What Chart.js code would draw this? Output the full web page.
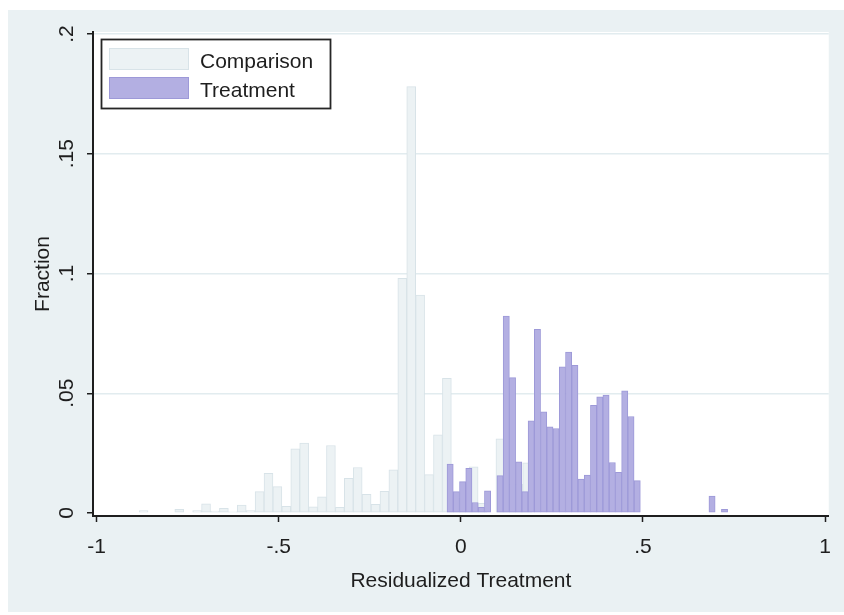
<!DOCTYPE html>
<html>
<head>
<meta charset="utf-8">
<title>Residualized Treatment — Comparison vs Treatment</title>
<script src="https://cdn.jsdelivr.net/npm/chart.js@4.4.1/dist/chart.umd.min.js"></script>
<style>
  html, body { margin: 0; padding: 0; background: #ffffff; }
  #wrap { width: 844px; height: 615px; }
</style>
</head>
<body>
<div id="wrap"><canvas id="hist" width="844" height="615"></canvas></div>
<script>
'use strict';

// ── Data (fractions) ──────────────────────────────────────────────────────
const compBinStart  = -0.8833;
const compBinWidth  = 0.02449;
const compFractions = [
  0.001, 0, 0, 0, 0.0015, 0, 0.001, 0.0038, 0.0008, 0.002,
  0.0005, 0.0033, 0.001, 0.0089, 0.0166, 0.011, 0.0028, 0.0268, 0.0292, 0.0026,
  0.0067, 0.0282, 0.0024, 0.0145, 0.019, 0.0078, 0.0036, 0.009, 0.018, 0.098,
  0.178, 0.091, 0.016, 0.0326, 0.0562, 0.006, 0.010, 0.0193, 0.004, 0,
  0.031, 0.012, 0.012, 0.021,
];

const treatBinStart  = -0.038;
const treatBinWidth  = 0.01712;
const treatFractions = [
  0.0204, 0.0089, 0.0131, 0.0186, 0.0044, 0.0024, 0.0093, 0, 0.0156, 0.0822,
  0.0565, 0.0214, 0.0089, 0.0385, 0.0767, 0.0422, 0.036, 0.0353, 0.061, 0.0672,
  0.0617, 0.0142, 0.0158, 0.045, 0.0485, 0.0492, 0.0211, 0.017, 0.051, 0.0403,
  0.0135, 0, 0, 0, 0, 0, 0, 0, 0, 0,
  0, 0, 0.0071, 0, 0.0015,
];

const seriesLabels = ['Comparison', 'Treatment'];
const xTickValues  = [-1, -0.5, 0, 0.5, 1];
const xTickLabels  = ['-1', '-.5', '0', '.5', '1'];
const yTickValues  = [0, 0.05, 0.1, 0.15, 0.2];
const yTickLabels  = ['0', '.05', '.1', '.15', '.2'];

// ── Style ─────────────────────────────────────────────────────────────────
const FONT       = '"Liberation Sans", Arial, sans-serif';
const FONT_SIZE  = 21;
const INK        = '#1e1e1e';
const PANEL_BG   = '#eaf1f3';
const GRID       = '#e2ecef';
const COMP_FILL  = '#ecf2f4';
const COMP_LINE  = '#d8e3e8';
const TREAT_FILL = '#b3afe2';
const TREAT_LINE = '#9d99d8';

/** Turn a list of bin fractions into {x: bin centre, y} points (empty bins → null). */
function toBins(start, width, fractions) {
  return fractions.map(function (f, i) {
    return { x: start + (i + 0.5) * width, y: f === 0 ? null : f };
  });
}

// ── Plugins ───────────────────────────────────────────────────────────────

// Stata-like panel: light outer region, white plot region
const panelPlugin = {
  id: 'panel',
  beforeDraw(chart) {
    const { ctx, chartArea: a } = chart;
    ctx.save();
    ctx.fillStyle = '#ffffff';
    ctx.fillRect(0, 0, chart.width, chart.height);
    ctx.fillStyle = PANEL_BG;
    ctx.fillRect(8, 10, chart.width - 8, 602);
    ctx.fillStyle = '#ffffff';
    ctx.fillRect(a.left, a.top, a.right - a.left, a.bottom - a.top);
    ctx.restore();
  },
};

// Vertical y tick labels (read bottom to top) + in-plot legend box
const labelsPlugin = {
  id: 'labels',
  afterDraw(chart) {
    const { ctx } = chart;
    const yScale = chart.scales.y;
    ctx.save();
    ctx.fillStyle = INK;
    ctx.font = FONT_SIZE + 'px ' + FONT;

    yTickValues.forEach(function (v, i) {
      const py = yScale.getPixelForValue(v);
      ctx.save();
      ctx.translate(73, py);
      ctx.rotate(-Math.PI / 2);
      ctx.textAlign = 'center';
      ctx.textBaseline = 'alphabetic';
      ctx.fillText(yTickLabels[i], 0, 0);
      ctx.restore();
    });

    // legend
    ctx.lineWidth = 1.8;
    ctx.strokeStyle = '#262626';
    ctx.fillStyle = '#ffffff';
    ctx.fillRect(101, 39, 229, 69);
    ctx.strokeRect(101.5, 39.5, 229, 69);

    const rows = [48, 77];
    chart.data.datasets.forEach(function (ds, i) {
      const top = rows[i];
      ctx.fillStyle = ds.backgroundColor;
      ctx.fillRect(109, top, 80, 22);
      ctx.lineWidth = 1;
      ctx.strokeStyle = ds.borderColor;
      ctx.strokeRect(109.5, top + 0.5, 79, 21);
      ctx.fillStyle = INK;
      ctx.textAlign = 'left';
      ctx.textBaseline = 'alphabetic';
      ctx.fillText(ds.label, 200, top + 20);
    });
    ctx.restore();
  },
};

// ── Chart ─────────────────────────────────────────────────────────────────
const X_MIN = -1.01;
const X_MAX = 1.01;

new Chart(document.getElementById('hist'), {
  type: 'bar',
  data: {
    datasets: [
      {
        label: seriesLabels[0],
        data: toBins(compBinStart, compBinWidth, compFractions),
        xAxisID: 'x',
        backgroundColor: COMP_FILL,
        borderColor: COMP_LINE,
        borderWidth: 1,
        borderSkipped: false,
        grouped: false,
        barPercentage: 1,
        categoryPercentage: 1,
        order: 2,
      },
      {
        label: seriesLabels[1],
        data: toBins(treatBinStart, treatBinWidth, treatFractions),
        xAxisID: 'x2',
        backgroundColor: TREAT_FILL,
        borderColor: TREAT_LINE,
        borderWidth: 1,
        borderSkipped: false,
        grouped: false,
        barPercentage: 1,
        categoryPercentage: 1,
        order: 1,
      },
    ],
  },
  options: {
    responsive: false,
    animation: false,
    devicePixelRatio: 1,
    layout: { padding: { top: 32, right: 12, left: 0, bottom: 0 } },
    plugins: {
      legend: { display: false },
      tooltip: { enabled: false },
    },
    scales: {
      x: {
        type: 'linear',
        position: 'bottom',
        offset: false,
        min: X_MIN,
        max: X_MAX,
        afterBuildTicks: function (scale) {
          scale.ticks = xTickValues.map(function (v) { return { value: v }; });
        },
        afterFit: function (scale) { scale.height = 99; },
        ticks: {
          autoSkip: false,
          maxRotation: 0,
          padding: 13,
          color: INK,
          font: { family: FONT, size: FONT_SIZE },
          callback: function (value, index) { return xTickLabels[index]; },
        },
        grid: {
          offset: false,
          drawOnChartArea: false,
          drawTicks: true,
          tickLength: 6,
          tickWidth: 1.5,
          tickColor: INK,
        },
        border: { color: INK, width: 2 },
        title: {
          display: true,
          text: 'Residualized Treatment',
          color: INK,
          font: { family: FONT, size: FONT_SIZE },
          padding: { top: 0, bottom: 21 },
        },
      },
      x2: {
        type: 'linear',
        display: false,
        offset: false,
        grid: { offset: false },
        min: X_MIN,
        max: X_MAX,
      },
      y: {
        type: 'linear',
        position: 'left',
        min: -3 / 2395,
        max: 0.2 + 2 / 2395,
        afterBuildTicks: function (scale) {
          scale.ticks = yTickValues.map(function (v) { return { value: v }; });
        },
        afterFit: function (scale) { scale.width = 93; },
        ticks: { display: false },
        grid: {
          color: function (c) { return c.tick && c.tick.value === 0 ? 'rgba(0,0,0,0)' : GRID; },
          lineWidth: 1.5,
          drawTicks: true,
          tickLength: 6,
          tickWidth: 1.5,
          tickColor: INK,
        },
        border: { color: INK, width: 2 },
        title: {
          display: true,
          text: 'Fraction',
          color: INK,
          font: { family: FONT, size: FONT_SIZE },
          padding: { top: 31, bottom: 0 },
        },
      },
    },
  },
  plugins: [panelPlugin, labelsPlugin],
});
</script>
</body>
</html>
